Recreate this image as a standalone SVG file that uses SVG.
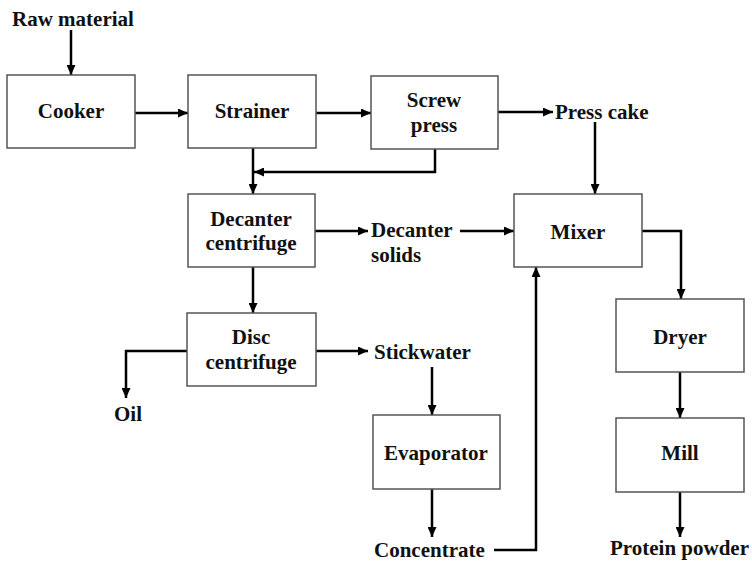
<svg xmlns="http://www.w3.org/2000/svg" width="752" height="563" viewBox="0 0 752 563">
<defs>
<marker id="ah" markerUnits="userSpaceOnUse" markerWidth="10" markerHeight="9" refX="10" refY="4.5" orient="auto">
<path d="M0,0 L10,4.5 L0,9 Z" fill="#000"/>
</marker>
<style>
.box{fill:#fff;stroke:#555;stroke-width:1.5}
.t{font-family:"Liberation Serif","Times New Roman",serif;font-weight:bold;font-size:21px;fill:#111}
.c{text-anchor:middle}
.ln{fill:none;stroke:#000;stroke-width:2.5}
.ar{fill:none;stroke:#000;stroke-width:2.5;marker-end:url(#ah)}
</style>
</defs>
<rect width="752" height="563" fill="#fff"/>
<g id="connectors">
<path class="ar" d="M71,30 V75"/>
<path class="ar" d="M135,113 H188"/>
<path class="ar" d="M316,113 H371"/>
<path class="ar" d="M498,112 H553"/>
<path class="ar" d="M595,122 V194"/>
<path class="ar" d="M435,149 V172 H254"/>
<path class="ar" d="M253,148 V194"/>
<path class="ar" d="M315,231 H368"/>
<path class="ar" d="M460,231 H514"/>
<path class="ar" d="M642,231 H681 V299"/>
<path class="ar" d="M680,372 V418"/>
<path class="ar" d="M680,492 V537"/>
<path class="ar" d="M253,267 V313"/>
<path class="ar" d="M187,351 H126 V398"/>
<path class="ar" d="M316,351 H368"/>
<path class="ar" d="M432,367 V415"/>
<path class="ar" d="M432,489 V537"/>
<path class="ar" d="M494,550 H536 V267"/>
</g>
<g id="raw-material"><text class="t" x="12" y="26">Raw material</text></g>
<g id="cooker"><rect class="box" x="7" y="75" width="128" height="73"/><text class="t c" x="71" y="118">Cooker</text></g>
<g id="strainer"><rect class="box" x="188" y="75" width="128" height="73"/><text class="t c" x="252" y="118">Strainer</text></g>
<g id="screw-press"><rect class="box" x="371" y="76" width="127" height="73"/><text class="t c" x="434" y="107">Screw</text><text class="t c" x="434" y="132">press</text></g>
<g id="press-cake"><text class="t" x="555" y="119">Press cake</text></g>
<g id="decanter"><rect class="box" x="188" y="194" width="127" height="73"/><text class="t c" x="251" y="226">Decanter</text><text class="t c" x="251" y="250">centrifuge</text></g>
<g id="decanter-solids"><text class="t" x="371" y="237">Decanter</text><text class="t" x="371" y="262">solids</text></g>
<g id="mixer"><rect class="box" x="514" y="194" width="128" height="73"/><text class="t c" x="578" y="239">Mixer</text></g>
<g id="disc"><rect class="box" x="187" y="313" width="129" height="73"/><text class="t c" x="251" y="344">Disc</text><text class="t c" x="251" y="369">centrifuge</text></g>
<g id="oil"><text class="t" x="114" y="421">Oil</text></g>
<g id="stickwater"><text class="t" x="374" y="359">Stickwater</text></g>
<g id="evaporator"><rect class="box" x="373" y="415" width="127" height="74"/><text class="t c" x="436" y="460">Evaporator</text></g>
<g id="concentrate"><text class="t" x="374" y="557">Concentrate</text></g>
<g id="dryer"><rect class="box" x="616" y="299" width="128" height="73"/><text class="t c" x="680" y="344">Dryer</text></g>
<g id="mill"><rect class="box" x="616" y="418" width="128" height="74"/><text class="t c" x="680" y="460">Mill</text></g>
<g id="protein-powder"><text class="t" x="610" y="555">Protein powder</text></g>
</svg>
